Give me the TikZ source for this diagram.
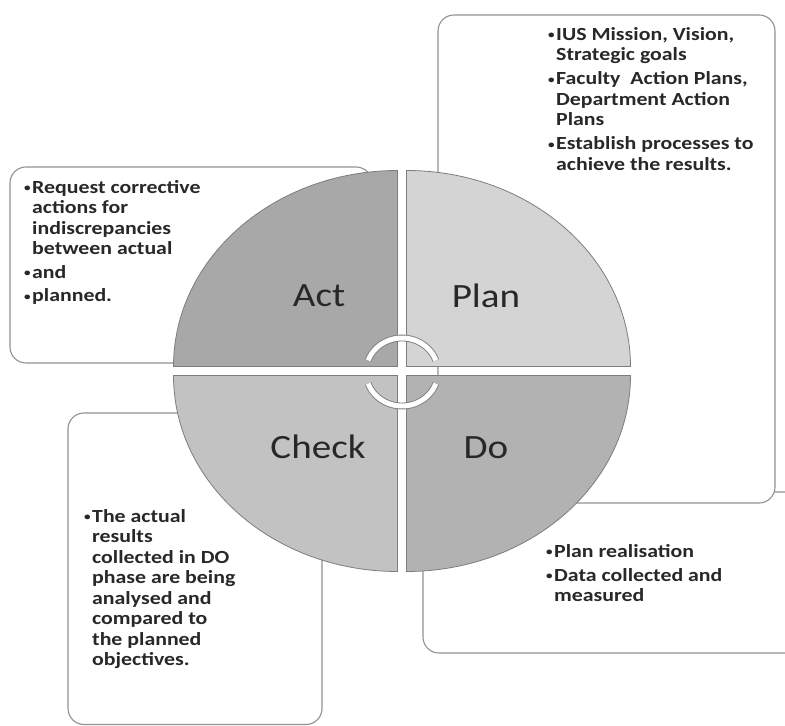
\documentclass[tikz,border=0pt]{standalone}
\usepackage{fontspec}
\setmainfont{Carlito}[FakeStretch=1.15]
\newfontfamily\bulfont{Carlito}[FakeStretch=1.18]
\definecolor{actc}{RGB}{168,168,168}
\definecolor{planc}{RGB}{212,212,212}
\definecolor{checkc}{RGB}{194,194,194}
\definecolor{doc}{RGB}{178,178,178}
\definecolor{edgec}{RGB}{125,125,125}
\definecolor{boxc}{RGB}{145,145,145}
\definecolor{txt}{RGB}{40,40,40}
\newcommand{\bu}{\makebox[8pt][l]{\raisebox{1.5pt}{\scalebox{0.6}{\textbullet}}}}
\newcommand{\ind}{\hspace*{8pt}}
\begin{document}
\begin{tikzpicture}[x=1pt,y=1pt,
  infobox/.style={draw=boxc, line width=1.1pt, fill=white, rounded corners=16pt, inner sep=0pt, outer sep=0pt, anchor=south west},
  slice/.style={draw=edgec, line width=0.8pt},
  phase/.style={font=\fontsize{34}{40}\selectfont, text=txt, inner sep=0pt},
  bullets/.style={font=\bulfont\bfseries\fontsize{18.5}{20.5}\selectfont, text=txt, align=left, anchor=north west, inner sep=0pt},
  cyc/.style={draw=edgec, line width=0.9pt, double=white, double distance=5pt}
]
\useasboundingbox (0,0) rectangle (785,726);
\fill[white] (0,0) rectangle (785,726);
\begin{scope}
\clip (0,0) rectangle (785,726);
\node[infobox, minimum width=387pt, minimum height=161pt] (dobox) at (423,73) {};
\node[infobox, minimum width=337pt, minimum height=488pt] (planbox) at (438,223) {};
\node[infobox, minimum width=362pt, minimum height=196pt] (actbox) at (10,363) {};
\node[infobox, minimum width=254pt, minimum height=311.5pt] (checkbox) at (68,1.5) {};
\end{scope}
% pie slices
\filldraw[slice, fill=actc] (397.5,359.5) -- ++(-224,0) arc[start angle=180, end angle=90, x radius=224, y radius=196] -- cycle;
\filldraw[slice, fill=planc] (406.5,359.5) -- ++(0,196) arc[start angle=90, end angle=0, x radius=224, y radius=196] -- cycle;
\filldraw[slice, fill=doc] (406.5,350.5) -- ++(224,0) arc[start angle=0, end angle=-90, x radius=224, y radius=196] -- cycle;
\filldraw[slice, fill=checkc] (397.5,350.5) -- ++(0,-196) arc[start angle=270, end angle=180, x radius=224, y radius=196] -- cycle;
% cycle arcs
\coordinate (hub) at (402,354);
\draw[cyc] ([shift={(160:36 and 34)}]hub) arc[start angle=160, end angle=20, x radius=36, y radius=34];
\draw[cyc] ([shift={(200:36 and 34)}]hub) arc[start angle=200, end angle=340, x radius=36, y radius=34];
% labels
\node[phase] (act) at (319,430) {Act};
\node[phase] (plan) at (486,430) {Plan};
\node[phase] (check) at (318,279) {Check};
\node[phase] (do) at (486,278) {Do};
% bullet texts
\node[bullets] (acttext) at (24,547) {\rule{0pt}{14pt}\bu Request corrective\\ \ind actions for\\ \ind indiscrepancies\\ \ind between actual\\[3pt] \bu and\\[3pt] \bu planned.};
\node[bullets] (plantext) at (548,700) {\rule{0pt}{14pt}\bu IUS Mission, Vision,\\ \ind Strategic goals\\[3.5pt] \bu Faculty~ Action Plans,\\ \ind Department Action\\ \ind Plans\\[3.5pt] \bu Establish processes to\\ \ind achieve the results.};
\node[bullets] (checktext) at (84,218) {\rule{0pt}{14pt}\bu The actual\\ \ind results\\ \ind collected in DO\\ \ind phase are being\\ \ind analysed and\\ \ind compared to\\ \ind the planned\\ \ind objectives.};
\node[bullets] (dotext) at (546,183) {\rule{0pt}{14pt}\bu Plan realisation\\[3.5pt] \bu Data collected and\\ \ind measured};
\end{tikzpicture}
\end{document}
